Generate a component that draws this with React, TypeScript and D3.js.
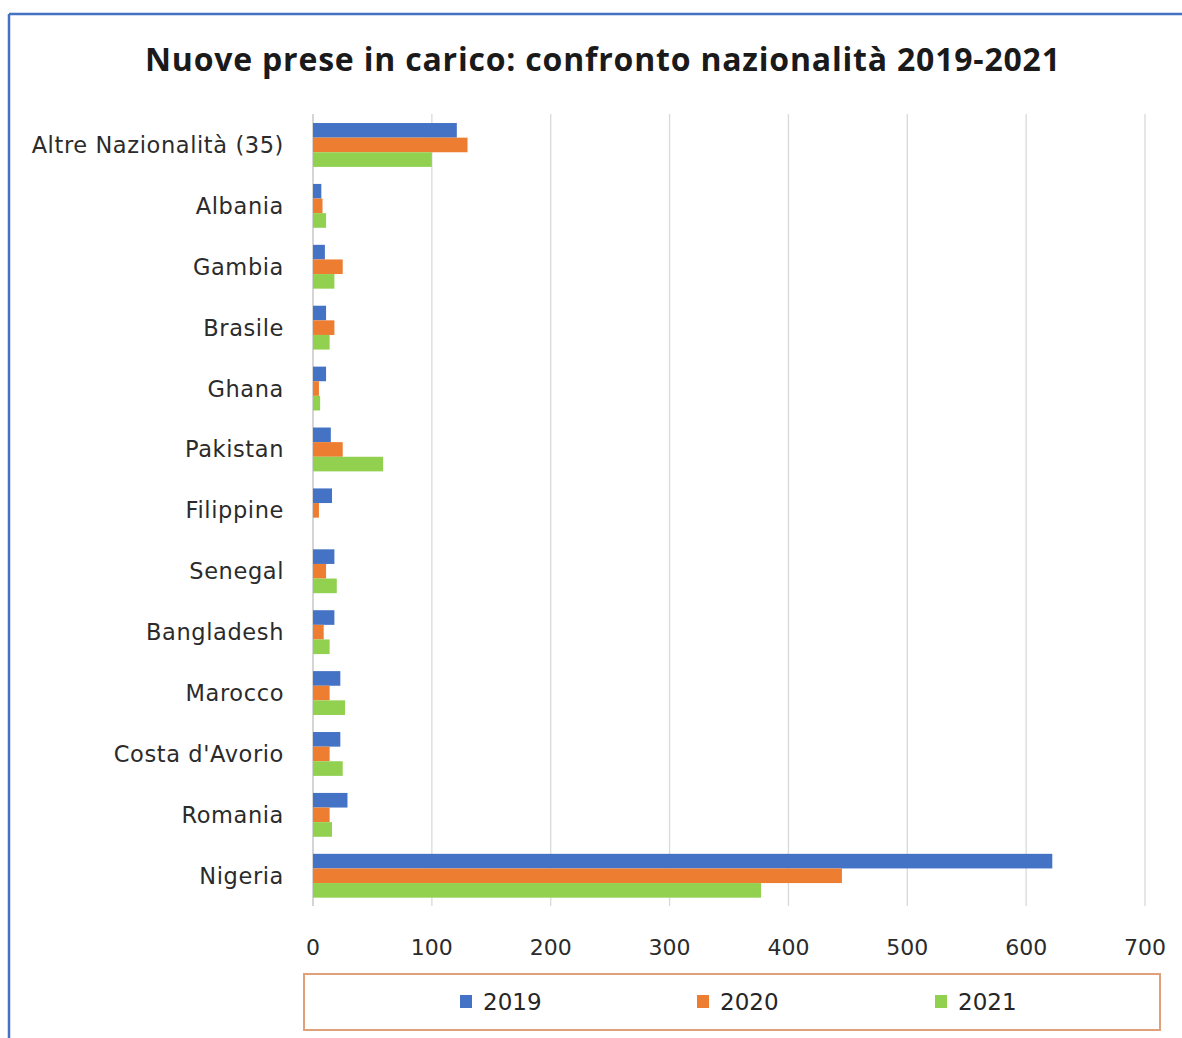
import React from "react";
import * as d3 from "d3";

const categories = [
  "Altre Nazionalità (35)",
  "Albania",
  "Gambia",
  "Brasile",
  "Ghana",
  "Pakistan",
  "Filippine",
  "Senegal",
  "Bangladesh",
  "Marocco",
  "Costa d'Avorio",
  "Romania",
  "Nigeria",
];
const values2019 = [121, 7, 10, 11, 11, 15, 16, 18, 18, 23, 23, 29, 622];
const values2020 = [130, 8, 25, 18, 5, 25, 5, 11, 9, 14, 14, 14, 445];
const values2021 = [100, 11, 18, 14, 6, 59, 0, 20, 14, 27, 25, 16, 377];
const seriesNames = ["2019", "2020", "2021"];
const seriesColors = ["#4472C4", "#ED7D31", "#92D050"];
const xTicks = [0, 100, 200, 300, 400, 500, 600, 700];

const W = 1182;
const H = 1038;

export default function App() {
  const series = [values2019, values2020, values2021];
  const x = d3.scaleLinear().domain([0, 700]).range([313, 1145]);
  const y = d3
    .scaleBand<string>()
    .domain(categories)
    .range([114.5, 906.2])
    .paddingInner(0.28)
    .paddingOuter(0.14);
  const sub = d3
    .scaleBand<string>()
    .domain(seriesNames)
    .range([0, y.bandwidth()]);
  const font = "'DejaVu Sans', 'Open Sans', sans-serif";
  const legendX = [460, 697, 935];

  return (
    <svg
      width={W}
      height={H}
      style={{ position: "absolute", left: 0, top: 0, background: "#fff" }}
      fontFamily={font}
    >
      <rect x={0} y={0} width={W} height={H} fill="#fff" />
      <line x1={9} y1={14} x2={W} y2={14} stroke="#4472C4" strokeWidth={2.5} />
      <line x1={9} y1={14} x2={9} y2={H} stroke="#4472C4" strokeWidth={2.5} />
      <text
        x={145}
        y={71}
        fontSize={32}
        fontWeight="bold"
        fill="#1a1a1a"
        fontFamily="'Open Sans', sans-serif"
        textLength={915}
        lengthAdjust="spacing"
      >
        Nuove prese in carico: confronto nazionalità 2019-2021
      </text>
      {xTicks.map((t) => (
        <line
          key={"g" + t}
          x1={x(t)}
          x2={x(t)}
          y1={114}
          y2={906}
          stroke={t === 0 ? "#BFBFBF" : "#D9D9D9"}
          strokeWidth={1.3}
        />
      ))}
      {categories.map((c, i) =>
        series.map((s, k) => (
          <rect
            key={c + k}
            x={x(0)}
            y={(y(c) as number) + (sub(seriesNames[k]) as number)}
            width={Math.max(0, x(s[i]) - x(0))}
            height={sub.bandwidth()}
            fill={seriesColors[k]}
          />
        ))
      )}
      {categories.map((c) => (
        <text
          key={"l" + c}
          x={284}
          y={(y(c) as number) + y.bandwidth() / 2 + 8}
          textAnchor="end"
          fontSize={22.5}
          letterSpacing={0.6}
          fill="#2b2b2b"
        >
          {c}
        </text>
      ))}
      {xTicks.map((t) => (
        <text
          key={"t" + t}
          x={x(t)}
          y={955}
          textAnchor="middle"
          fontSize={22}
          fill="#2b2b2b"
        >
          {t}
        </text>
      ))}
      <rect
        x={304}
        y={974}
        width={856}
        height={56}
        fill="none"
        stroke="#E0A17A"
        strokeWidth={2}
      />
      {seriesNames.map((n, k) => (
        <g key={"lg" + n}>
          <rect
            x={legendX[k]}
            y={995}
            width={12}
            height={13}
            fill={seriesColors[k]}
          />
          <text x={legendX[k] + 23} y={1010} fontSize={23} fill="#262626">
            {n}
          </text>
        </g>
      ))}
    </svg>
  );
}
